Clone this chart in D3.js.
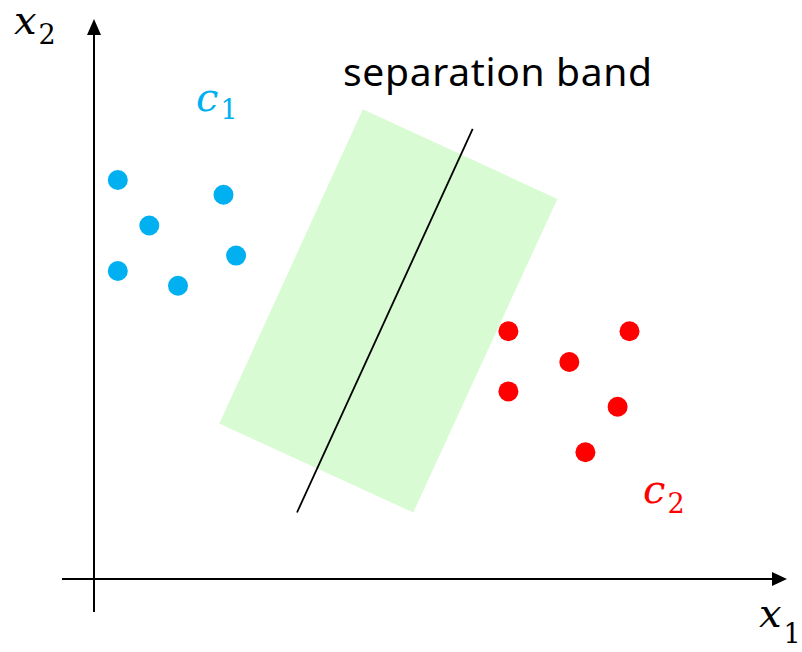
<!DOCTYPE html>
<html>
<head>
<meta charset="utf-8" />
<script src="https://d3js.org/d3.v7.min.js"></script>
<style>
    body { margin: 0; background: #fff; }
    svg { display: block; }
    .math { font-family: "DejaVu Serif", serif; font-style: italic; }
    .sub { font-family: "DejaVu Serif", serif; font-style: normal; }
</style>
</head>
<body>
<div id="visu"></div>
<script>
    // classe c1 (bleu) et c2 (rouge), coordonnées en unités du plan (x1, x2)
    const c1X = [0.34, 1.85, 0.79, 0.34, 2.03, 1.20];
    const c1Y = [5.70, 5.49, 5.05, 4.40, 4.62, 4.19];
    const c2X = [5.92, 7.65, 6.79, 5.92, 7.48, 7.02];
    const c2Y = [3.54, 3.54, 3.10, 2.68, 2.46, 1.81];

    // bande de séparation (4 coins) et frontière
    const bandX = [3.84, 6.62, 4.56, 1.79];
    const bandY = [6.71, 5.43, 0.95, 2.22];
    const lineX = [5.41, 2.90];
    const lineY = [6.43, 0.95];

    const width = 802, height = 652;

    const x = d3.scaleLinear().domain([0, 10]).range([94, 794]);
    const y = d3.scaleLinear().domain([0, 8]).range([579, 19]);

    const svg = d3.select("#visu").append("svg")
        .attr("width", width)
        .attr("height", height);

    // bande verte
    const band = bandX.map((v, i) => [x(v), y(bandY[i])]);
    svg.append("polygon")
        .attr("points", band.map(p => p.join(",")).join(" "))
        .attr("fill", "#d9fbd3");

    // frontière
    svg.append("line")
        .attr("x1", x(lineX[0])).attr("y1", y(lineY[0]))
        .attr("x2", x(lineX[1])).attr("y2", y(lineY[1]))
        .attr("stroke", "#000")
        .attr("stroke-width", 1.8);

    // axes avec flèches
    const x0 = x(0), y0 = y(0);
    svg.append("line")
        .attr("x1", 62).attr("y1", y0)
        .attr("x2", 775).attr("y2", y0)
        .attr("stroke", "#000").attr("stroke-width", 2);
    svg.append("path")
        .attr("d", `M787,${y0} L772,${y0 - 7} L772,${y0 + 7} Z`)
        .attr("fill", "#000");

    svg.append("line")
        .attr("x1", x0).attr("y1", 612)
        .attr("x2", x0).attr("y2", 30)
        .attr("stroke", "#000").attr("stroke-width", 2);
    svg.append("path")
        .attr("d", `M${x0},${y(8)} L${x0 - 7},${y(8) + 16} L${x0 + 7},${y(8) + 16} Z`)
        .attr("fill", "#000");

    // points
    const pts1 = c1X.map((v, i) => ({ x: v, y: c1Y[i] }));
    const pts2 = c2X.map((v, i) => ({ x: v, y: c2Y[i] }));

    svg.selectAll("circle.c1")
        .data(pts1)
        .enter().append("circle")
        .attr("class", "c1")
        .attr("cx", d => x(d.x))
        .attr("cy", d => y(d.y))
        .attr("r", 10)
        .attr("fill", "#00b0f0");

    svg.selectAll("circle.c2")
        .data(pts2)
        .enter().append("circle")
        .attr("class", "c2")
        .attr("cx", d => x(d.x))
        .attr("cy", d => y(d.y))
        .attr("r", 10)
        .attr("fill", "#ff0000");

    // étiquettes mathématiques : lettre italique + indice
    function mathLabel(px, py, letter, sub, subDx, subDy, color) {
        const t = svg.append("text")
            .attr("x", px).attr("y", py)
            .attr("fill", color);
        t.append("tspan").attr("class", "math").style("font-size", "40px").text(letter);
        t.append("tspan").attr("class", "sub").style("font-size", "27px")
            .attr("dx", subDx).attr("dy", subDy).text(sub);
    }

    mathLabel(14, 34, "x", "2", 2, 10, "#000");
    mathLabel(759, 627, "x", "1", 2, 16, "#000");
    mathLabel(196, 111, "c", "1", 2, 8, "#00b0f0");
    mathLabel(643, 503, "c", "2", 2, 10, "#ff0000");

    svg.append("text")
        .attr("x", 343).attr("y", 86)
        .style("font-family", "'Noto Sans', sans-serif")
        .style("font-size", "39px")
        .attr("textLength", 309)
        .attr("lengthAdjust", "spacing")
        .attr("fill", "#000")
        .text("separation band");
</script>
</body>
</html>
